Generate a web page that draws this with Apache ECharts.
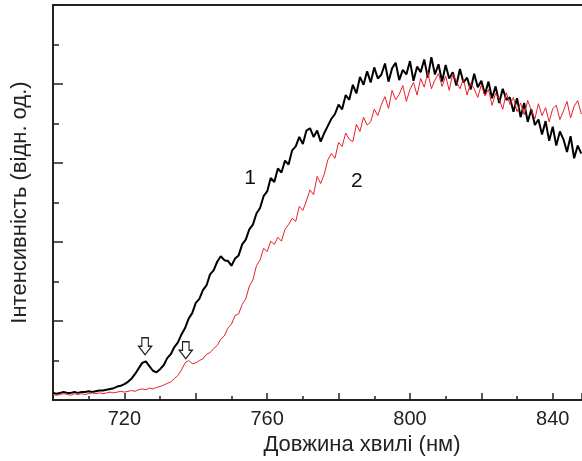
<!DOCTYPE html>
<html>
<head>
<meta charset="utf-8">
<script src="https://cdn.jsdelivr.net/npm/echarts@6/dist/echarts.min.js"></script>
<style>
  html, body { margin: 0; padding: 0; background: #fff; }
  #chart { width: 582px; height: 461px; }
</style>
</head>
<body>
<div id="chart"></div>
<script>
// wavelength grid: 700..848 nm, 1 nm step
const wlStart = 700;
const wlStep = 1;

// curve 1 (black), relative intensity
const curve1 = [
  0.09, 0.08, 0.09, 0.10, 0.09, 0.09, 0.10, 0.09, 0.10, 0.10,
  0.11, 0.10, 0.11, 0.12, 0.12, 0.13, 0.14, 0.15, 0.17, 0.18,
  0.20, 0.23, 0.27, 0.33, 0.40, 0.47, 0.49, 0.43, 0.37, 0.35,
  0.39, 0.44, 0.53, 0.58, 0.67, 0.73, 0.83, 0.91, 1.03, 1.10,
  1.23, 1.28, 1.39, 1.45, 1.59, 1.64, 1.75, 1.82, 1.77, 1.76,
  1.70, 1.79, 1.83, 1.97, 2.03, 2.16, 2.22, 2.36, 2.43, 2.58,
  2.64, 2.81, 2.76, 2.93, 2.88, 3.03, 2.98, 3.16, 3.21, 3.33,
  3.24, 3.41, 3.44, 3.33, 3.41, 3.27, 3.38, 3.47, 3.56, 3.62,
  3.74, 3.68, 3.86, 3.80, 3.99, 3.88, 4.09, 3.99, 4.16, 4.02,
  4.21, 4.07, 4.12, 4.26, 4.03, 4.20, 4.27, 4.05, 4.18, 4.12,
  4.29, 4.04, 4.22, 4.15, 4.31, 4.08, 4.34, 4.12, 4.25, 4.03,
  4.24, 4.07, 4.15, 3.98, 4.19, 4.02, 4.08, 3.93, 4.13, 3.96,
  4.04, 3.87, 4.03, 3.82, 3.97, 3.76, 3.94, 3.80, 3.83, 3.65,
  3.82, 3.58, 3.76, 3.52, 3.68, 3.48, 3.55, 3.36, 3.53, 3.28,
  3.46, 3.22, 3.40, 3.30, 3.14, 3.34, 3.06, 3.22, 3.12
];

// curve 2 (red), relative intensity
const curve2 = [
  0.07, 0.06, 0.07, 0.08, 0.07, 0.06, 0.08, 0.07, 0.08, 0.07,
  0.08, 0.09, 0.08, 0.09, 0.08, 0.09, 0.10, 0.09, 0.10, 0.11,
  0.10, 0.11, 0.12, 0.11, 0.13, 0.14, 0.13, 0.15, 0.14, 0.16,
  0.17, 0.19, 0.21, 0.23, 0.27, 0.31, 0.38, 0.47, 0.50, 0.46,
  0.47, 0.50, 0.52, 0.58, 0.60, 0.65, 0.69, 0.77, 0.81, 0.91,
  0.96, 1.07, 1.09, 1.21, 1.28, 1.44, 1.52, 1.70, 1.77, 1.92,
  1.88, 2.01, 1.97, 2.06, 2.01, 2.16, 2.22, 2.30, 2.26, 2.45,
  2.40, 2.52, 2.66, 2.60, 2.83, 2.74, 2.86, 3.04, 3.12, 3.06,
  3.26, 3.21, 3.38, 3.30, 3.27, 3.49, 3.40, 3.58, 3.48, 3.52,
  3.68, 3.60, 3.74, 3.84, 3.69, 3.92, 3.80, 3.87, 3.98, 3.78,
  3.93, 4.02, 3.86, 4.07, 3.96, 4.15, 3.94, 4.05, 4.13, 3.97,
  4.10, 3.92, 4.13, 4.03, 3.94, 4.06, 3.86, 4.01, 3.94, 3.83,
  3.99, 3.85, 3.93, 3.73, 3.88, 3.81, 3.68, 3.89, 3.74, 3.83,
  3.65, 3.76, 3.61, 3.79, 3.67, 3.56, 3.75, 3.60, 3.70, 3.52,
  3.69, 3.73, 3.55, 3.66, 3.78, 3.57, 3.72, 3.79, 3.62
];

// annotations (data coords)
const arrowMarks = [[725.8, 0.68], [737.2, 0.63]];
const curveNames = ['1', '2'];
const curveNameAt = [[755.2, 2.81], [785.1, 2.77]];

const font = "'Liberation Sans', Arial, sans-serif";
const ink = '#222';

function toPairs(vals) {
  return vals.map((v, i) => [wlStart + i * wlStep, v]);
}

function nameMark(idx) {
  return {
    silent: true,
    symbol: 'rect',
    symbolSize: 1,
    itemStyle: { color: 'rgba(0,0,0,0)' },
    label: {
      show: true,
      position: 'inside',
      formatter: curveNames[idx],
      fontSize: 21,
      color: '#111',
      fontFamily: font
    },
    data: [{ coord: curveNameAt[idx] }]
  };
}

const chart = echarts.init(document.getElementById('chart'));
chart.setOption({
  animation: false,
  grid: { left: 53, right: 0, top: 5, bottom: 61 },
  xAxis: [
    {
      type: 'value',
      min: 700,
      max: 848.2,
      interval: 20,
      name: 'Довжина хвилі (нм)',
      nameLocation: 'middle',
      nameGap: 32,
      // the original axis ran past the crop, so its title sits right of centre
      nameTextStyle: { fontSize: 22, color: ink, fontFamily: font, padding: [0, 0, 0, 89] },
      axisLine: { lineStyle: { color: ink, width: 2 } },
      axisTick: { inside: true, length: 7, lineStyle: { color: ink, width: 1.5 } },
      minorTick: { show: true, splitNumber: 2, length: 4, lineStyle: { color: ink, width: 1.5 } },
      axisLabel: {
        formatter: v => (v % 40 === 0 ? String(v) : ''),
        fontSize: 20,
        color: ink,
        margin: 9,
        fontFamily: font,
        showMaxLabel: false
      },
      splitLine: { show: false }
    },
    {
      type: 'value',
      position: 'top',
      min: 700,
      max: 848.2,
      axisLine: { show: true, lineStyle: { color: ink, width: 2 } },
      axisTick: { show: false },
      axisLabel: { show: false },
      splitLine: { show: false }
    }
  ],
  yAxis: {
    type: 'value',
    min: 0,
    max: 5,
    interval: 1,
    name: 'Інтенсивність (відн. од.)',
    nameLocation: 'middle',
    nameGap: 22,
    nameTextStyle: { fontSize: 22, color: ink, fontFamily: font },
    axisLine: { show: true, lineStyle: { color: ink, width: 2 } },
    axisTick: { inside: true, length: 10, lineStyle: { color: ink, width: 1.5 } },
    minorTick: { show: true, splitNumber: 2, length: 6, lineStyle: { color: ink, width: 1.5 } },
    axisLabel: { show: false },
    splitLine: { show: false }
  },
  series: [
    {
      name: '1',
      type: 'line',
      data: toPairs(curve1),
      showSymbol: false,
      lineStyle: { color: '#000', width: 2 },
      itemStyle: { color: '#000' },
      markPoint: {
        silent: true,
        symbol: 'path://M3,0 L9,0 L9,8 L12,8 L6,16 L0,8 L3,8 Z',
        symbolSize: [13, 17],
        itemStyle: { color: '#fff', borderColor: ink, borderWidth: 1.3 },
        label: { show: false },
        data: arrowMarks.map(c => ({ coord: c }))
      }
    },
    {
      name: '1-label',
      type: 'line',
      data: [],
      markPoint: nameMark(0)
    },
    {
      name: '2',
      type: 'line',
      data: toPairs(curve2),
      showSymbol: false,
      lineStyle: { color: '#e8202a', width: 1 },
      itemStyle: { color: '#e8202a' },
      markPoint: nameMark(1)
    }
  ]
});
</script>
</body>
</html>
